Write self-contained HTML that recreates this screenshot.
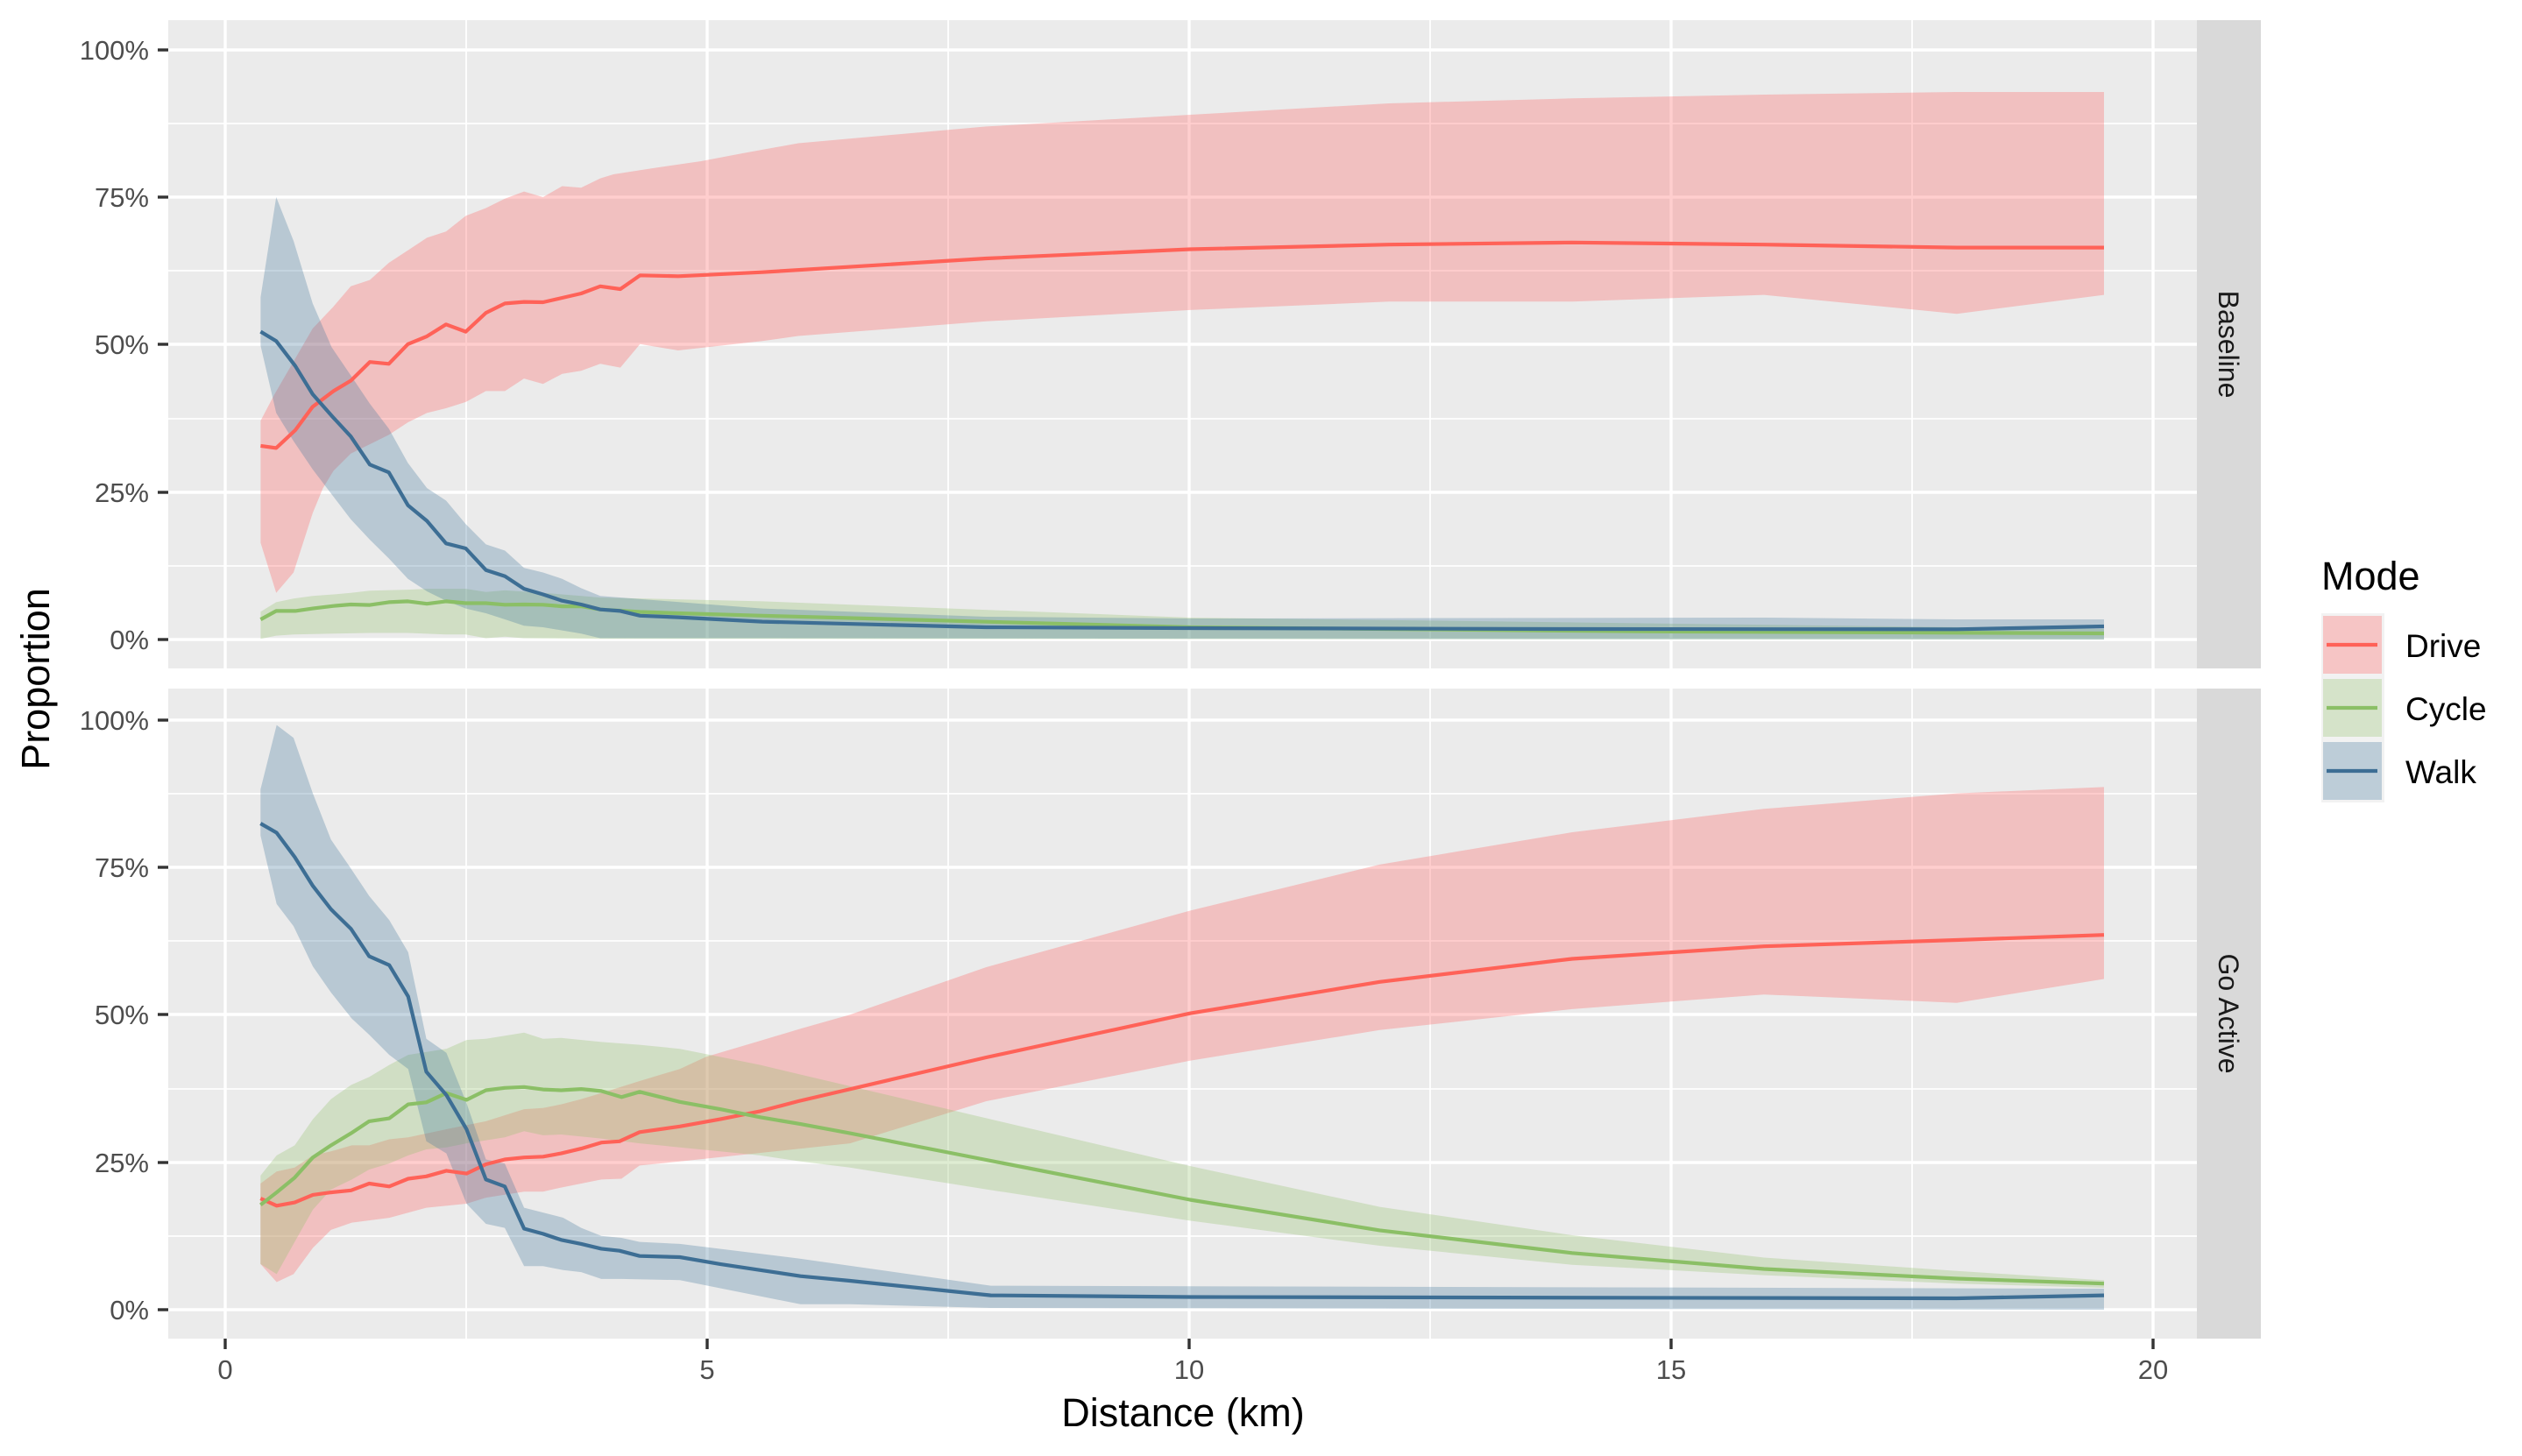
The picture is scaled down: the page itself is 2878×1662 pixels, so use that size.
<!DOCTYPE html>
<html><head><meta charset="utf-8"><style>
html,body{margin:0;padding:0;background:#fff;}
svg{display:block;font-family:"Liberation Sans",sans-serif;}
</style></head><body>
<svg width="2878" height="1662" viewBox="0 0 2878 1662" xmlns="http://www.w3.org/2000/svg">
<rect width="2878" height="1662" fill="#fff"/>
<!-- panels -->
<rect x="192" y="23" width="2315" height="740" fill="#EBEBEB"/>
<rect x="192" y="786" width="2315" height="742" fill="#EBEBEB"/>
<g stroke="#fff">
<g stroke-width="1.8">
<line x1="192" x2="2507" y1="646" y2="646"/><line x1="192" x2="2507" y1="478" y2="478"/><line x1="192" x2="2507" y1="309" y2="309"/><line x1="192" x2="2507" y1="141" y2="141"/>
<line x1="192" x2="2507" y1="1411" y2="1411"/><line x1="192" x2="2507" y1="1243" y2="1243"/><line x1="192" x2="2507" y1="1074" y2="1074"/><line x1="192" x2="2507" y1="906" y2="906"/>
<line x1="532" x2="532" y1="23" y2="763"/><line x1="1082" x2="1082" y1="23" y2="763"/><line x1="1632" x2="1632" y1="23" y2="763"/><line x1="2182" x2="2182" y1="23" y2="763"/>
<line x1="532" x2="532" y1="786" y2="1528"/><line x1="1082" x2="1082" y1="786" y2="1528"/><line x1="1632" x2="1632" y1="786" y2="1528"/><line x1="2182" x2="2182" y1="786" y2="1528"/>
</g>
<g stroke-width="3.4">
<line x1="192" x2="2507" y1="730" y2="730"/><line x1="192" x2="2507" y1="562" y2="562"/><line x1="192" x2="2507" y1="393" y2="393"/><line x1="192" x2="2507" y1="225" y2="225"/><line x1="192" x2="2507" y1="57" y2="57"/>
<line x1="192" x2="2507" y1="1495" y2="1495"/><line x1="192" x2="2507" y1="1327" y2="1327"/><line x1="192" x2="2507" y1="1158" y2="1158"/><line x1="192" x2="2507" y1="990" y2="990"/><line x1="192" x2="2507" y1="822" y2="822"/>
<line x1="257" x2="257" y1="23" y2="763"/><line x1="807" x2="807" y1="23" y2="763"/><line x1="1357" x2="1357" y1="23" y2="763"/><line x1="1907" x2="1907" y1="23" y2="763"/><line x1="2457" x2="2457" y1="23" y2="763"/>
<line x1="257" x2="257" y1="786" y2="1528"/><line x1="807" x2="807" y1="786" y2="1528"/><line x1="1357" x2="1357" y1="786" y2="1528"/><line x1="1907" x2="1907" y1="786" y2="1528"/><line x1="2457" x2="2457" y1="786" y2="1528"/>
</g></g>

<!-- TOP ribbons -->
<polygon fill="#FF5C5C" fill-opacity="0.3" points="297.4,480.3 313.3,450 356.8,375 380.5,350 400.3,326.8 422,319.6 443.7,300 465.5,285.7 487.2,271.4 509,264.3 531.5,246.4 554.5,237.5 576.2,226.8 598,218.6 619.7,225 641.5,212.5 663.2,214.3 685,203.6 700,199 745,192 800,184 850,174.5 911,163.5 1125.5,144.4 1358,131 1585,118 1794,112.3 2013,108 2233,105 2401,105 2401,336.6 2233,358.2 2013,336.6 1794,344.3 1585,344.3 1358,353.9 1125.5,366.8 911,383.5 870,389.3 773.9,400 730.4,392.8 707.9,419.6 685,415.3 663.2,423.2 641.5,426.8 619.7,438.2 598,432.1 576.2,446.4 554.5,446.4 531.5,458.9 509,466 487.2,471.4 465.5,482.1 443.7,496.4 422,507.1 400.3,517.8 380.5,537.5 368.6,557.1 356.8,585.7 335,653.5 315.2,676.7 297.4,619.6"/>
<polygon fill="#91C069" fill-opacity="0.3" points="297.4,698.2 315.2,687.4 335,683.2 356.8,680.3 380.5,678.5 400.3,676.7 422,674.2 465.5,673.1 487.2,672.1 531.5,672.1 554.5,675.7 576.2,673.9 619.7,676.7 663.2,680.3 685,682.1 870,686.4 1358,705 2401,718 2401,730 685,729.2 598,728.5 576.2,726.7 554.5,728.5 531.5,724.2 509,724.2 465.5,722.5 422,722.5 380.5,723.2 335,724.2 315.2,725.6 297.4,729.2"/>
<polygon fill="#41769B" fill-opacity="0.3" points="297.4,339.3 315.2,225 335,275 356.8,346.4 378.5,396.4 400.3,428.5 422,460.7 443.7,489.3 465.5,528.5 487.2,557.1 509,571.4 531.5,598.2 554.5,621.4 576.2,628.5 598,648.2 619.7,653.5 641.5,660.7 663.2,671.4 685,680.3 870,694.6 1125,704 1358,706 2013,705 2233,707 2401,707 2401,730 685,728.5 663.2,723.2 641.5,719.6 619.7,716 598,714.2 576.2,707 554.5,700 531.5,694.6 509,685.7 487.2,675 465.5,660.7 443.7,637.4 422,616 400.3,592.8 378.5,564.2 356.8,535.7 335,503.5 315.2,471.4 297.4,394.6"/>

<!-- BOTTOM ribbons -->
<polygon fill="#FF5C5C" fill-opacity="0.3" points="297.3,1351 315.7,1337.3 336.3,1332.7 357,1318.9 377.7,1314.3 401.5,1307.4 421.3,1307.4 444.2,1300.5 465.8,1298.2 509.4,1289 554.5,1279.9 598.1,1266.1 619.7,1264.7 640.3,1260.6 663.3,1254.6 686.2,1247.7 729.9,1234 775.8,1220.2 805.6,1206.4 867.6,1188 913.5,1174.2 970,1158.2 1125.5,1104 1358,1039.5 1574.5,986.9 1794,950 2013,923.3 2233,905.6 2401,898.4 2401,1117.5 2233,1144.7 2013,1135.2 1794,1151.9 1574.5,1175.8 1358,1210.7 1125.5,1257 970,1305.1 775.8,1325.8 729.9,1330.4 709.2,1345.5 686.2,1346.4 663.3,1351 640.3,1355.6 619.7,1360.2 598.1,1360.2 554.5,1367.1 532.4,1374 486.5,1378.6 444.2,1390.1 401.5,1395.6 377.7,1403.9 357,1424.5 335,1454.4 315.7,1463.5 297.3,1442.9"/>
<polygon fill="#91C069" fill-opacity="0.3" points="297.3,1341.9 315.7,1318.9 336.3,1307.4 357,1277.6 377.7,1254.6 400.6,1238.5 421.3,1229.4 444.2,1215.6 465.8,1204.1 509.4,1197.2 532.4,1187.1 554.5,1185.7 598.1,1178.8 619.7,1185.7 640.3,1184.8 686.2,1189.4 729.9,1192.6 775.8,1197.2 821.7,1206.4 867.6,1215.6 911,1226 1358,1331 1574.5,1377.6 1794,1410 2013,1435.5 2233,1450.8 2401,1461.4 2401,1470 2233,1465.2 2013,1455.6 1794,1443.7 1574.5,1422 1358,1393.4 1125.5,1357.6 970,1332.7 913.5,1325.8 867.6,1318.9 821.7,1314.3 775.8,1309.7 729.9,1305.1 686.2,1299.6 640.3,1295 619.7,1295.9 598.1,1291.3 576,1298.2 532.4,1305.1 509.4,1309.7 486.5,1312 465.8,1318.9 444.2,1328.1 421.3,1335 401.5,1346.4 377.7,1357.9 357,1380.9 335,1419.9 315.7,1454.4 297.3,1442.9"/>
<polygon fill="#41769B" fill-opacity="0.3" points="297.3,901 315.7,827.6 335,842.2 357,905.6 377.7,958.4 398.3,988.3 421.3,1022.7 444.2,1050.3 465.8,1087 486.5,1185.7 509.4,1201.8 532.4,1259.2 554.5,1323.5 576,1328.1 598.1,1378.6 619.7,1384.1 642.6,1390 663.3,1401.6 686.2,1410.7 709.2,1413 729.9,1417.6 775.8,1419.9 850,1429 911,1436.5 1130.6,1467.6 2401,1471 2401,1495 1130.6,1493 970,1488.8 913.5,1488.8 775.8,1461.2 709.2,1459.9 686.2,1459.9 663.3,1452.1 642.6,1449.8 619.7,1445.2 598.1,1445.2 576,1401.6 554.5,1397 532.4,1374 509.4,1316.6 486.5,1302.8 465.8,1220.2 444.2,1204.1 421.3,1181.1 401.5,1162.8 377.7,1132.9 357,1103.1 335,1057.2 315.7,1031.9 297.3,953.8"/>

<!-- lines -->
<g fill="none" stroke-width="4.2" stroke-linejoin="round">
<polyline stroke="#FF6258" points="297.4,508.9 315.2,511.4 337,491 356.8,464.3 380.5,446.4 400.3,434.6 422,413.2 443.7,415.3 465.5,392.8 487.2,383.9 509,370.3 531.5,378.6 554.5,357.1 576.2,346.4 598,344.6 619.7,345 641.5,340 663.2,335 685,326.8 707.9,330 730.4,314.3 773.9,315.3 870,310.7 1125.5,295 1358,284.5 1585,279.2 1794,276.8 2013,279.2 2233,282.6 2401,282.6"/>
<polyline stroke="#8BBF66" points="297.4,707.1 315.2,697.4 337,697.4 356.8,694.6 380.5,691.7 400.3,690 422,690.6 443.7,687.4 465.5,686.4 487.2,689.2 509,686.4 531.5,688.5 554.5,688.5 576.2,690.3 598,690 619.7,690.3 641.5,692.1 663.2,692.1 685,695.7 707.9,697.1 730.4,698.5 773.9,700 870,702.8 1358,716 1870,720.7 2401,723"/>
<polyline stroke="#3D6E94" points="297.4,378.6 315.2,389.3 337,417.8 356.8,450 380.5,476.8 400.3,498.2 422,530.3 443.7,539.2 465.5,576.7 487.2,594.6 509,620.3 531.5,626 554.5,650.7 576.2,657.8 598,672.1 619.7,678.5 641.5,685.7 663.2,690 685,695.7 707.9,697.4 730.4,702.8 773.9,704.6 870,709.6 1125,716 1358,717 1794,718 2233,718.3 2401,715"/>

<polyline stroke="#FF6258" points="297.3,1368 315.7,1376.3 336.3,1372.6 357,1363.9 377.7,1361.1 400.6,1358.8 421.3,1351 444.2,1354.3 465.8,1345.5 486.5,1342.8 509.4,1336.4 532.4,1339.6 554.5,1329 576,1323.5 598.1,1321.2 619.7,1320.3 640.3,1316.6 663.3,1311.1 686.2,1304.2 706.9,1302.8 729.9,1292.3 775.8,1285.8 821.7,1277.6 867.6,1268.4 911,1257 1125.5,1207 1358,1156.7 1574.5,1120.8 1794,1094.5 2013,1080.2 2233,1073 2401,1067.2"/>
<polyline stroke="#8BBF66" points="297.3,1375.4 315.7,1361.1 336.3,1344.2 357,1321.2 377.7,1307.4 400.6,1293.6 421.3,1279.9 444.2,1276.6 465.8,1260.6 486.5,1258.3 509.4,1247.7 532.4,1255.5 554.5,1244.5 576,1241.8 598.1,1240.8 619.7,1243.6 640.3,1244.5 663.3,1243.1 686.2,1245.4 709.2,1252.3 729.9,1246.3 775.8,1257.8 821.7,1266.1 867.6,1275.3 913.5,1283.1 970,1293.6 1125.5,1324 1358,1369.5 1574.5,1404.4 1794,1430.3 2013,1448.5 2233,1459.5 2401,1465.2"/>
<polyline stroke="#3D6E94" points="297.3,940 315.7,950.6 336.3,978.2 357,1011.2 377.7,1037.9 400.6,1060.4 421.3,1091.6 444.2,1101.7 465.8,1137.5 486.5,1223.4 509.4,1250 532.4,1289 554.5,1346.4 576,1354.3 598.1,1402.5 619.7,1408.4 640.3,1415.3 663.3,1419.9 686.2,1425.4 706.9,1427.7 729.9,1433.7 775.8,1435 821.7,1442.9 867.6,1449.8 913.5,1456.7 970,1462 1130.6,1478.6 1358,1480.5 2233,1482 2401,1478.6"/>
</g>

<!-- strips -->
<rect x="2507" y="23" width="73" height="740" fill="#D9D9D9"/>
<rect x="2507" y="786" width="73" height="742" fill="#D9D9D9"/>
<text transform="translate(2532,393) rotate(90)" text-anchor="middle" font-size="32" fill="#1A1A1A">Baseline</text>
<text transform="translate(2532,1157) rotate(90)" text-anchor="middle" font-size="32" fill="#1A1A1A">Go Active</text>

<!-- y ticks -->
<g stroke="#333" stroke-width="3.4">
<line x1="180" x2="192" y1="730" y2="730"/><line x1="180" x2="192" y1="562" y2="562"/><line x1="180" x2="192" y1="393" y2="393"/><line x1="180" x2="192" y1="225" y2="225"/><line x1="180" x2="192" y1="57" y2="57"/>
<line x1="180" x2="192" y1="1495" y2="1495"/><line x1="180" x2="192" y1="1327" y2="1327"/><line x1="180" x2="192" y1="1158" y2="1158"/><line x1="180" x2="192" y1="990" y2="990"/><line x1="180" x2="192" y1="822" y2="822"/>
<line x1="257" x2="257" y1="1528" y2="1540"/><line x1="807" x2="807" y1="1528" y2="1540"/><line x1="1357" x2="1357" y1="1528" y2="1540"/><line x1="1907" x2="1907" y1="1528" y2="1540"/><line x1="2457" x2="2457" y1="1528" y2="1540"/>
</g>
<g font-size="31" fill="#4D4D4D" text-anchor="end">
<text x="170" y="741">0%</text><text x="170" y="573">25%</text><text x="170" y="404">50%</text><text x="170" y="236">75%</text><text x="170" y="68">100%</text>
<text x="170" y="1506">0%</text><text x="170" y="1338">25%</text><text x="170" y="1169">50%</text><text x="170" y="1001">75%</text><text x="170" y="833">100%</text>
</g>
<g font-size="31" fill="#4D4D4D" text-anchor="middle">
<text x="257" y="1574">0</text><text x="807" y="1574">5</text><text x="1357" y="1574">10</text><text x="1907" y="1574">15</text><text x="2457" y="1574">20</text>
</g>
<text x="1350" y="1628" font-size="45" text-anchor="middle" fill="#000">Distance (km)</text>
<text transform="translate(56,775) rotate(-90)" font-size="45" text-anchor="middle" fill="#000">Proportion</text>

<!-- legend -->
<text x="2649" y="673" font-size="45" fill="#000">Mode</text>
<rect x="2649" y="700" width="72" height="216" fill="#F2F2F2"/>
<rect x="2651" y="703" width="67" height="66" fill="#FF5C5C" fill-opacity="0.3"/>
<rect x="2651" y="775" width="67" height="66" fill="#91C069" fill-opacity="0.3"/>
<rect x="2651" y="847" width="67" height="66" fill="#41769B" fill-opacity="0.3"/>
<g stroke-width="4.2">
<line x1="2655" x2="2713" y1="736" y2="736" stroke="#FF6258"/>
<line x1="2655" x2="2713" y1="808" y2="808" stroke="#8BBF66"/>
<line x1="2655" x2="2713" y1="880" y2="880" stroke="#3D6E94"/>
</g>
<g font-size="37" fill="#000">
<text x="2745" y="750">Drive</text><text x="2745" y="822">Cycle</text><text x="2745" y="894">Walk</text>
</g>
</svg>
</body></html>
